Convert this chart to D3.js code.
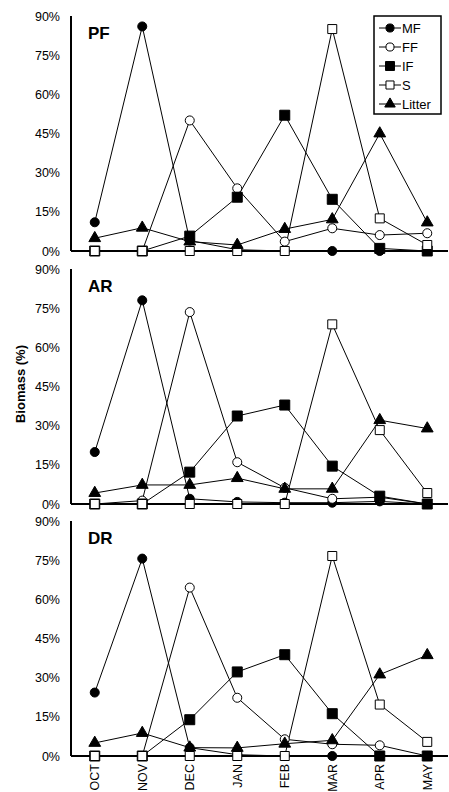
<!DOCTYPE html>
<html>
<head>
<meta charset="utf-8">
<script src="https://cdn.jsdelivr.net/npm/d3@7"></script>
<style>
  body { margin: 0; background: #fff; }
  text { font-family: "Liberation Sans", Arial, sans-serif; fill: #000; }
</style>
</head>
<body>
<div id="container"></div>
<script>
// months on the x axis
const months = ['OCT', 'NOV', 'DEC', 'JAN', 'FEB', 'MAR', 'APR', 'MAY'];
const yTicks = [0, 15, 30, 45, 60, 75, 90];
const seriesNames = ['MF', 'FF', 'IF', 'S', 'Litter'];
const panelNames = ['PF', 'AR', 'DR'];

// biomass (%) per panel
const pfMF = [11, 86, 4, 0.5, 0, 0, 0, 0];
const pfFF = [0, 0, 50, 24, 3.6, 8.7, 6.1, 6.8];
const pfIF = [0, 0, 5.7, 20.6, 52, 19.8, 1, 0];
const pfS = [0, 0, 0, 0, 0, 85, 12.5, 2.3];
const pfLitter = [4.9, 8.9, 3.6, 2.3, 8.4, 12.1, 45, 10.9];

const arMF = [19.9, 78, 2, 0.8, 0.5, 0.5, 1, 0];
const arFF = [0, 1.3, 73.5, 16, 6.2, 2, 2.6, 0];
const arIF = [0, 0, 12.2, 33.7, 37.9, 14.5, 3, 0];
const arS = [0, 0, 0, 0, 0, 68.8, 28.3, 4.2];
const arLitter = [4.2, 7.3, 7.3, 9.9, 5.8, 5.8, 32.1, 28.9];

const drMF = [24.3, 75.6, 3.2, 0.5, 0, 0, 0, 0];
const drFF = [0, 0, 64.5, 22.3, 6.4, 4.5, 4.1, 0];
const drIF = [0, 0, 13.9, 32.2, 38.8, 16.2, 0, 0];
const drS = [0, 0, 0, 0, 0, 76.6, 19.7, 5.4];
const drLitter = [5, 8.8, 3.2, 3.1, 4.7, 6, 31.2, 38.6];

const panelData = [
  [pfMF, pfFF, pfIF, pfS, pfLitter],
  [arMF, arFF, arIF, arS, arLitter],
  [drMF, drFF, drIF, drS, drLitter]
];

const width = 449;
const height = 792;
const left = 71;
const panelTops = [16, 269, 521];
const panelHeight = 235;

// marker style per series
const markers = {
  MF: { type: d3.symbolCircle, size: 64, fill: '#000' },
  FF: { type: d3.symbolCircle, size: 64, fill: '#fff' },
  IF: { type: d3.symbolSquare, size: 100, fill: '#000' },
  S: { type: d3.symbolSquare, size: 81, fill: '#fff' },
  Litter: { type: d3.symbolTriangle, size: 60, fill: '#000' }
};

const svg = d3.select('#container').append('svg')
  .attr('width', width)
  .attr('height', height);

const x = d3.scalePoint()
  .domain(months)
  .range([left, 451])
  .padding(0.5);

panelTops.forEach((top, p) => {
  const y = d3.scaleLinear()
    .domain([0, 90])
    .range([top + panelHeight, top]);

  const g = svg.append('g').attr('class', 'panel');

  // y tick labels (no tick marks in the original)
  g.selectAll('.ytick')
    .data(yTicks)
    .enter().append('text')
    .attr('class', 'ytick')
    .attr('x', 60)
    .attr('y', (d) => y(d))
    .attr('dy', '0.36em')
    .attr('text-anchor', 'end')
    .style('font-size', '12.5px')
    .text((d) => d + '%');

  g.append('line')
    .attr('x1', left).attr('x2', left)
    .attr('y1', y(90)).attr('y2', y(0))
    .style('stroke', '#000')
    .style('stroke-width', 2);

  g.append('line')
    .attr('x1', left).attr('x2', 448)
    .attr('y1', y(0)).attr('y2', y(0))
    .style('stroke', '#000')
    .style('stroke-width', 2);

  g.append('text')
    .attr('x', 88)
    .attr('y', top + 23)
    .style('font-size', '17px')
    .style('font-weight', 'bold')
    .text(panelNames[p]);

  const line = d3.line()
    .x((d, i) => x(months[i]))
    .y((d) => y(d));

  const series = panelData[p];

  series.forEach((values) => {
    g.append('path')
      .datum(values)
      .attr('d', line)
      .style('fill', 'none')
      .style('stroke', '#000')
      .style('stroke-width', 1);
  });

  series.forEach((values, s) => {
    const m = markers[seriesNames[s]];
    g.selectAll('.m' + s)
      .data(values)
      .enter().append('path')
      .attr('class', 'm' + s)
      .attr('transform', (d, i) => 'translate(' + x(months[i]) + ',' + y(d) + ')')
      .attr('d', d3.symbol().type(m.type).size(m.size))
      .style('fill', m.fill)
      .style('stroke', '#000')
      .style('stroke-width', 1);
  });
});

// x labels under the last panel
svg.selectAll('.xlabel')
  .data(months)
  .enter().append('text')
  .attr('class', 'xlabel')
  .attr('transform', (d) => 'translate(' + x(d) + ',764) rotate(-90)')
  .attr('dy', '0.36em')
  .attr('text-anchor', 'end')
  .style('font-size', '12.5px')
  .text((d) => d);

svg.append('text')
  .attr('transform', 'translate(25,384) rotate(-90)')
  .attr('text-anchor', 'middle')
  .style('font-size', '13px')
  .style('font-weight', 'bold')
  .text('Biomass (%)');

// legend
const legend = svg.append('g').attr('class', 'legend');
legend.append('rect')
  .attr('x', 374).attr('y', 16)
  .attr('width', 67).attr('height', 98)
  .style('fill', '#fff')
  .style('stroke', '#000')
  .style('stroke-width', 1.5);

const legendY = d3.scalePoint()
  .domain(seriesNames)
  .range([28, 104]);

const item = legend.selectAll('.item')
  .data(seriesNames)
  .enter().append('g')
  .attr('class', 'item')
  .attr('transform', (d) => 'translate(0,' + legendY(d) + ')');

item.append('line')
  .attr('x1', 379).attr('x2', 401)
  .style('stroke', '#000')
  .style('stroke-width', 1);

item.append('path')
  .attr('transform', 'translate(390,0)')
  .attr('d', (d) => d3.symbol().type(markers[d].type).size(markers[d].size * 0.8)())
  .style('fill', (d) => markers[d].fill)
  .style('stroke', '#000')
  .style('stroke-width', 1);

item.append('text')
  .attr('x', 402)
  .attr('dy', '0.36em')
  .style('font-size', '13px')
  .text((d) => d);
</script>
</body>
</html>
